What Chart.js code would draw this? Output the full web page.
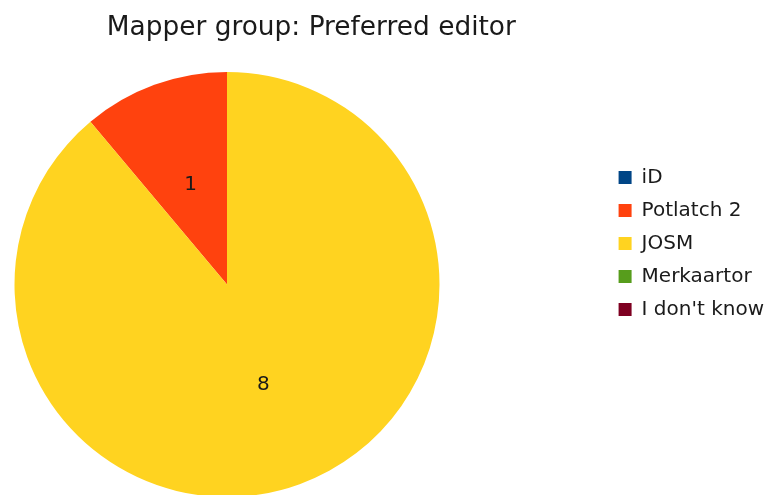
<!DOCTYPE html>
<html>
<head>
<meta charset="utf-8">
<title>Mapper group: Preferred editor</title>
<script src="https://cdn.jsdelivr.net/npm/chart.js@4/dist/chart.umd.min.js"></script>
<style>
  html, body { margin: 0; padding: 0; background: #ffffff; }
  #wrap { width: 766px; height: 495px; }
</style>
</head>
<body>
<div id="wrap"><canvas id="editorChart" width="766" height="495"></canvas></div>
<script>
// データ
const editors = ['iD', 'Potlatch 2', 'JOSM', 'Merkaartor', "I don't know"];
const counts = [0, 1, 8, 0, 0];
const sliceColors = ['#004586', '#ff420e', '#ffd320', '#579d1c', '#7e0021'];

// 円の位置（凡例の左側に寄せる）
const pieArea = { left: 14, top: 72, right: 440, bottom: 497 };

const placePie = {
    id: 'placePie',
    afterLayout(chart) {
        chart.chartArea = {
            left: pieArea.left,
            top: pieArea.top,
            right: pieArea.right,
            bottom: pieArea.bottom,
            width: pieArea.right - pieArea.left,
            height: pieArea.bottom - pieArea.top
        };
    }
};

// 値ラベル
const sliceLabels = {
    id: 'sliceLabels',
    afterDatasetsDraw(chart) {
        const ctx = chart.ctx;
        const meta = chart.getDatasetMeta(0);
        ctx.save();
        ctx.font = '20px "DejaVu Sans", sans-serif';
        ctx.fillStyle = '#1a1a1a';
        ctx.textAlign = 'center';
        ctx.textBaseline = 'middle';
        meta.data.forEach((arc, i) => {
            const v = chart.data.datasets[0].data[i];
            if (!v) return;
            const p = arc.tooltipPosition();
            ctx.fillText(String(v), p.x, p.y);
        });
        ctx.restore();
    }
};

document.addEventListener('DOMContentLoaded', () => {
    Chart.defaults.color = '#1a1a1a';
    Chart.defaults.font.family = "'DejaVu Sans', sans-serif";

    new Chart(document.getElementById('editorChart'), {
        type: 'pie',
        data: {
            labels: editors,
            datasets: [{
                data: counts,
                backgroundColor: sliceColors,
                borderWidth: 0
            }]
        },
        options: {
            responsive: false,
            animation: false,
            rotation: -40,
            layout: {
                padding: { left: 17, right: -8, top: 0, bottom: 8 }
            },
            plugins: {
                title: {
                    display: true,
                    text: 'Mapper group: Preferred editor',
                    fullSize: false,
                    font: { size: 26.4, weight: 'normal' },
                    padding: { top: 12, bottom: 10 }
                },
                legend: {
                    position: 'right',
                    labels: {
                        boxWidth: 13,
                        boxHeight: 13,
                        padding: 13,
                        font: { size: 20 }
                    }
                },
                tooltip: { enabled: false }
            }
        },
        plugins: [placePie, sliceLabels]
    });
});
</script>
</body>
</html>
